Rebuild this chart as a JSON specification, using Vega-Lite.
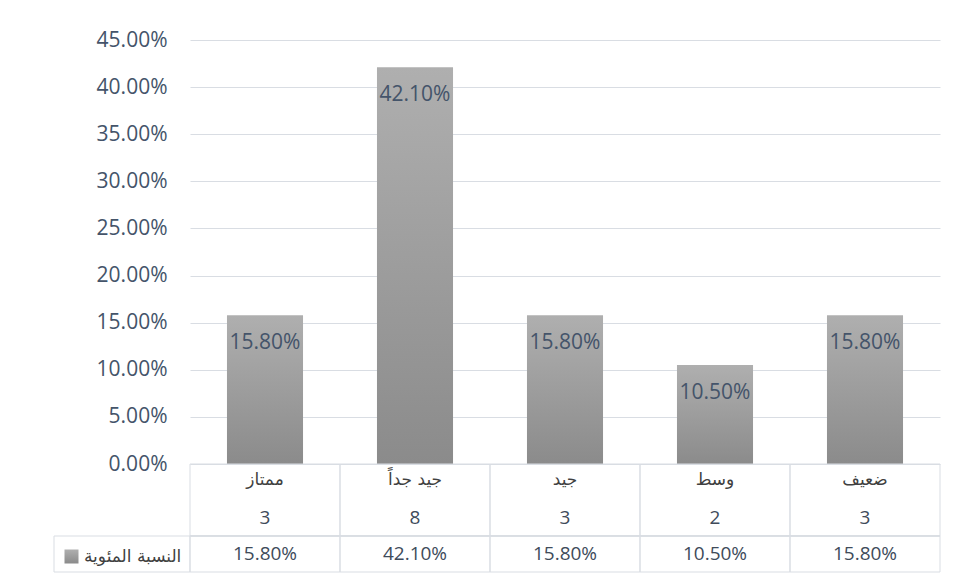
{
  "$schema": "https://vega.github.io/schema/vega-lite/v6.json",
  "background": "white",
  "padding": {"left": 53, "top": 29, "right": 5, "bottom": 5},
  "config": {"view": {"stroke": null}, "font": "Open Sans"},
  "datasets": {
    "main": [
      {"cat": "ممتاز", "n": 3, "pct": 0.158, "series": "النسبة المئوية"},
      {"cat": "جيد جداً", "n": 8, "pct": 0.421, "series": "النسبة المئوية"},
      {"cat": "جيد", "n": 3, "pct": 0.158, "series": "النسبة المئوية"},
      {"cat": "وسط", "n": 2, "pct": 0.105, "series": "النسبة المئوية"},
      {"cat": "ضعيف", "n": 3, "pct": 0.158, "series": "النسبة المئوية"}
    ]
  },
  "columns": 2,
  "spacing": 0,
  "bounds": "flush",
  "concat": [
    {
      "width": 136,
      "height": 424,
      "data": {"values": []},
      "mark": "rect",
      "encoding": {}
    },
    {
      "width": 750,
      "height": 424,
      "data": {"name": "main"},
      "layer": [
        {
          "mark": {"type": "bar", "strokeWidth": 0, "fill": {"gradient": "linear", "x1": 0, "y1": 0, "x2": 0, "y2": 1, "stops": [{"offset": 0, "color": "#afafaf"}, {"offset": 1, "color": "#8b8b8b"}]}},
          "encoding": {
            "x": {"field": "cat", "type": "nominal", "scale": {"domain": ["ممتاز", "جيد جداً", "جيد", "وسط", "ضعيف"], "paddingInner": 0.493, "paddingOuter": 0.2465}, "axis": null},
            "y": {"field": "pct", "type": "quantitative", "scale": {"domain": [0, 0.45], "nice": false}, "axis": {"values": [0, 0.05, 0.1, 0.15, 0.2, 0.25, 0.3, 0.35, 0.4, 0.45], "format": ".2%", "grid": true, "gridColor": "#d9dde3", "gridWidth": 1, "domain": false, "ticks": false, "tickSize": 0, "labelPadding": 23, "labelFontSize": 21, "labelColor": "#44546a", "labelFont": "Open Sans", "title": null}},
            "stroke": {"field": "series", "type": "nominal", "scale": {"range": ["#9e9e9e"]}, "legend": {"orient": "none", "legendX": 9, "legendY": 508, "title": null, "symbolType": "square", "symbolSize": 196, "symbolStrokeWidth": 0, "symbolFillColor": "#9e9e9e", "labelFont": "DejaVu Sans", "labelFontSize": 17, "labelColor": "#404040", "labelOffset": 4, "padding": 0}}
          }
        },
        {
          "mark": {"type": "text", "baseline": "middle", "dy": 28, "fontSize": 21, "color": "#44546a", "font": "Open Sans"},
          "encoding": {
            "x": {"field": "cat", "type": "nominal"},
            "y": {"field": "pct", "type": "quantitative"},
            "text": {"field": "pct", "type": "quantitative", "format": ".2%"}
          }
        }
      ]
    },
    {
      "width": 136,
      "height": 108,
      "data": {"values": [{"row": "percent"}]},
      "mark": {"type": "rect", "fill": "transparent", "stroke": "#d9dde3", "strokeWidth": 1},
      "encoding": {
        "y": {"field": "row", "type": "nominal", "scale": {"type": "band", "domain": ["category", "count", "percent"], "paddingInner": 0, "paddingOuter": 0}, "axis": null}
      }
    },
    {
      "width": 750,
      "height": 108,
      "data": {"name": "main"},
      "layer": [
        {
          "mark": {"type": "rect", "fill": "transparent", "stroke": "#d9dde3", "strokeWidth": 1},
          "encoding": {
            "x": {"field": "cat", "type": "nominal", "scale": {"domain": ["ممتاز", "جيد جداً", "جيد", "وسط", "ضعيف"], "paddingInner": 0, "paddingOuter": 0}, "axis": null}
          }
        },
        {
          "mark": {"type": "rule", "color": "#d9dde3", "strokeWidth": 1},
          "encoding": {
            "y": {"datum": "percent", "type": "nominal", "bandPosition": 0, "scale": {"type": "band", "domain": ["category", "count", "percent"], "paddingInner": 0, "paddingOuter": 0}, "axis": null}
          }
        },
        {
          "mark": {"type": "text", "font": "DejaVu Sans", "fontSize": 17, "color": "#404040", "baseline": "middle", "dy": -2},
          "encoding": {
            "x": {"field": "cat", "type": "nominal"},
            "y": {"datum": "category", "type": "nominal"},
            "text": {"field": "cat"}
          }
        },
        {
          "mark": {"type": "text", "font": "Open Sans", "fontSize": 19, "color": "#404b5a", "baseline": "middle"},
          "encoding": {
            "x": {"field": "cat", "type": "nominal"},
            "y": {"datum": "count", "type": "nominal"},
            "text": {"field": "n", "type": "quantitative"}
          }
        },
        {
          "mark": {"type": "text", "font": "Open Sans", "fontSize": 19, "color": "#404b5a", "baseline": "middle"},
          "encoding": {
            "x": {"field": "cat", "type": "nominal"},
            "y": {"datum": "percent", "type": "nominal"},
            "text": {"field": "pct", "type": "quantitative", "format": ".2%"}
          }
        }
      ]
    }
  ]
}
